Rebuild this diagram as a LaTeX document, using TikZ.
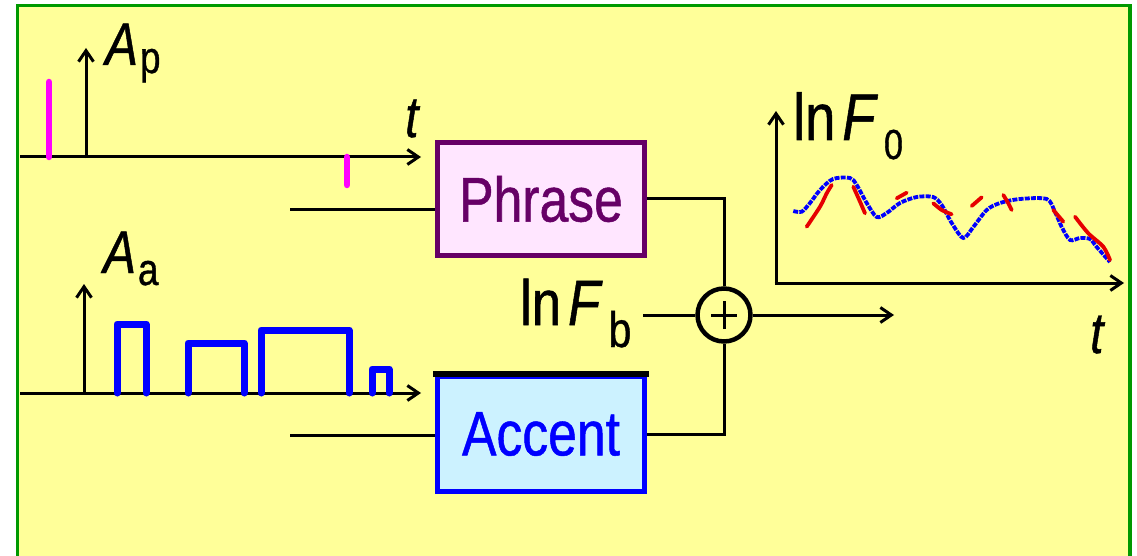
\documentclass[tikz,border=0pt]{standalone}
\usepackage{fontspec}
\setmainfont[FakeStretch=0.82,FakeBold=0.8]{Liberation Sans}
\usetikzlibrary{arrows.meta}
\definecolor{bgyellow}{RGB}{255,255,153}
\definecolor{framegreen}{RGB}{0,153,0}
\definecolor{phrasefill}{RGB}{255,230,255}
\definecolor{phrasecol}{RGB}{102,0,102}
\definecolor{accentfill}{RGB}{204,242,255}
\definecolor{pulseblue}{RGB}{0,0,255}
\definecolor{spikecol}{RGB}{255,0,255}
\definecolor{redcurve}{RGB}{230,0,0}
\newcommand\fsz[1]{\fontsize{#1}{#1}\selectfont}
\tikzset{
  axis/.style={line width=3pt, -{Straight Barb[length=11pt,width=15pt,line width=3pt]}},
  wire/.style={line width=3pt},
  block/.style={draw, line width=5pt, minimum width=207pt, inner sep=0pt, font=\fsz{63}},
  lbl/.style={anchor=base west, inner sep=0pt},
  spike/.style={spikecol, line width=6.5pt, line cap=round},
  pulse/.style={pulseblue, line width=7pt, line cap=round, line join=round},
  fzero/.style={pulseblue, line width=3.8pt, dash pattern=on 5pt off 1.2pt},
  fzeromodel/.style={redcurve, line width=3.8pt, line cap=round},
}
\begin{document}
\begin{tikzpicture}[x=1pt,y=-1pt]
\useasboundingbox (0,0) rectangle (1137,556);
% frame
\fill[bgyellow] (17.5,5.5) rectangle (1130,556);
\draw[framegreen, line width=3.5pt] (17.5,560) -- (17.5,5.5) -- (1130,5.5) -- (1130,560);

% phrase command axis
\coordinate (pax0) at (20,157);
\coordinate (pax1) at (421,157);
\coordinate (pay0) at (86,158.5);
\coordinate (pay1) at (86,48);
\draw[axis] (pax0) -- (pax1);
\draw[axis] (pay0) -- (pay1);
\draw[spike] (49,82) -- (49,157);
\draw[spike] (347,157) -- (347,185);
\node[lbl, font=\fsz{60}] (Ap) at (105,65) {\textit{A}\hspace{2pt}\raisebox{-8pt}{\fsz{45}p}};
\node[lbl, font=\fsz{58}] (tp) at (405,137) {\textit{t}};

% accent command axis
\coordinate (aax0) at (20,393);
\coordinate (aax1) at (421,393);
\coordinate (aay0) at (84,394.5);
\coordinate (aay1) at (84,284);
\draw[axis] (aax0) -- (aax1);
\draw[axis] (aay0) -- (aay1);
\draw[pulse] (117,393) -- (117,324) -- (146,324) -- (146,393);
\draw[pulse] (188,393) -- (188,343) -- (244,343) -- (244,393);
\draw[pulse] (261,393) -- (261,330) -- (349,330) -- (349,393);
\draw[pulse] (372,393) -- (372,369) -- (389,369) -- (389,393);
\node[lbl, font=\fsz{60}] (Aa) at (103,273) {\textit{A}\hspace{2pt}\raisebox{-12pt}{\fsz{45}a}};

% blocks
\node[block, draw=phrasecol, fill=phrasefill, text=phrasecol, minimum height=113pt] (phrase) at (541,199) {Phrase};
\node[block, draw=pulseblue, fill=accentfill, text=pulseblue, minimum height=115pt] (accent) at (541,434) {Accent};
\draw[line width=5.5pt] ([xshift=-2pt]accent.north west) -- ([xshift=2pt]accent.north east);

% inputs
\coordinate (pin) at (290,209);
\coordinate (ain) at (290,435);
\draw[wire] (pin) -- (pin -| phrase.west);
\draw[wire] (ain) -- (ain -| accent.west);

% summation
\node[draw, circle, line width=4.5pt, minimum size=53pt, inner sep=0pt] (sum) at (724,315) {};
\draw[line width=3pt] ([xshift=-13pt]sum.center) -- ([xshift=13pt]sum.center);
\draw[line width=3pt] ([yshift=-14pt]sum.center) -- ([yshift=14pt]sum.center);
\draw[wire] (phrase.east) -| (sum.north);
\draw[wire] (accent.east) -| (sum.south);
\node[lbl, font=\fsz{64}] (lnfb) at (520,325) {ln\hspace{7pt}\textit{F}\hspace{6pt}\raisebox{-22pt}{\fsz{50}b}};
\coordinate (fbin) at (643,315);
\draw[wire] (fbin) -- (sum.west);
\coordinate (out) at (894,315);
\draw[axis] (sum.east) -- (out);

% output F0 plot
\coordinate (origin) at (776,283);
\coordinate (fy) at (776,111);
\coordinate (fx) at (1124,283);
\draw[axis] ([yshift=1.5pt]origin) -- (fy);
\draw[axis] ([xshift=-1.5pt]origin) -- (fx);
\node[lbl, font=\fsz{66}] (lnf0) at (793,140) {ln\hspace{7pt}\textit{F}\hspace{6pt}\raisebox{-19pt}{\fsz{42}0}};
\node[lbl, font=\fsz{58}] (tf) at (1090,353) {\textit{t}};

\draw[fzero] plot[smooth, tension=0.5] coordinates {
(793.3,211) (801.7,211.7) (810,203) (820,190) (833,179) (850,178) (856.7,185)
(866.7,203) (876.7,217) (886.7,213) (900,203) (916.7,197) (933,197) (941.7,205)
(951.7,223) (963.3,238) (973.3,227) (986.7,210) (1000,203) (1020,199) (1046.7,199)
(1055,212) (1061.7,227) (1070,240) (1080,238) (1090,239) (1096.7,247) (1110,262)};

\draw[fzeromodel] plot[smooth] coordinates {(806.7,226.7) (820,206.7) (826.7,193.3) (831.7,185)};
\draw[fzeromodel] plot[smooth] coordinates {(853.3,186.7) (860,201.7) (865,213.3)};
\draw[fzeromodel] (896.7,198.3) -- (906.7,192.7);
\draw[fzeromodel] plot[smooth] coordinates {(933.3,203.3) (941.7,210) (951.7,214.3)};
\draw[fzeromodel] (971.7,206) -- (981.7,197.3);
\draw[fzeromodel] plot[smooth] coordinates {(1003.3,195) (1008.3,203.3) (1011.7,210)};
\draw[fzeromodel] (1053.3,210) -- (1063.3,221.7);
\draw[fzeromodel] plot[smooth] coordinates {(1075,216.7) (1088.3,233.3) (1103.3,246.7) (1110,260)};
\end{tikzpicture}
\end{document}
